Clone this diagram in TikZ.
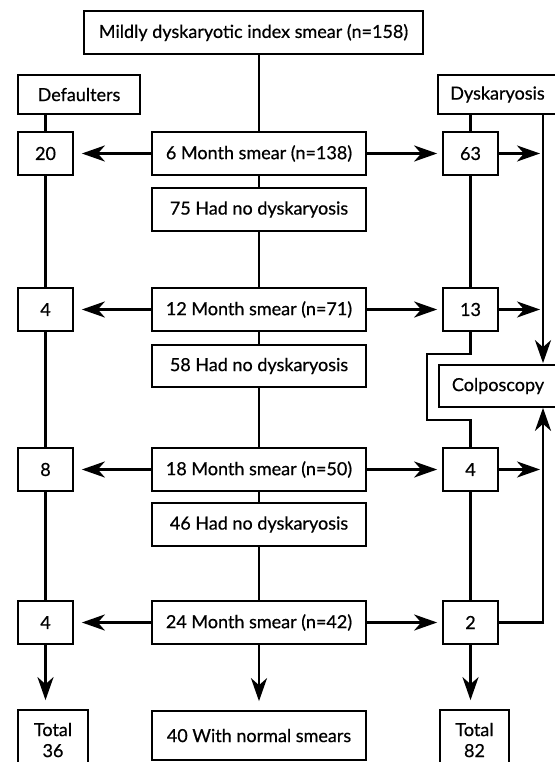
\documentclass[tikz,border=0pt]{standalone}
\usepackage{fontspec}
\setmainfont{Lato}[FakeBold=0.6]
\usetikzlibrary{arrows.meta}
\begin{document}
\begin{tikzpicture}[x=1pt,y=-1pt,
  box/.style={draw, line width=1.7pt, inner sep=0pt, align=center, font=\fontsize{18}{21}\selectfont},
  conn/.style={line width=2.7pt},
  arr/.style={conn, -{Stealth[length=23pt,width=16pt,inset=7pt]}}]
\useasboundingbox (0,0) rectangle (554,762);
% helper: box by corners
\newcommand{\bx}[6]{\node[box, minimum width={#4-#2}, minimum height={#5-#3}] (#1) at ({(#2+#4)/2},{(#3+#5)/2}) {#6};}
\bx{top}{84}{11}{423}{54}{Mildly dyskaryotic index smear (n=158)}
\bx{def}{18}{75}{140}{114}{Defaulters}
\bx{dys}{438}{75}{557}{114}{Dyskaryosis}
\bx{n20}{18}{132}{73}{175}{20}
\bx{m6}{152}{132}{366}{175}{6 Month smear (n=138)}
\bx{n63}{443}{132}{498}{175}{63}
\bx{h75}{152}{188}{366}{231}{75 Had no dyskaryosis}
\bx{n4a}{18}{288}{73}{331}{4}
\bx{m12}{152}{288}{366}{331}{12 Month smear (n=71)}
\bx{n13}{443}{288}{498}{331}{13}
\bx{h58}{152}{345}{366}{387}{58 Had no dyskaryosis}
\bx{colp}{439}{365}{557}{407}{Colposcopy}
\bx{n8}{18}{448}{73}{491}{8}
\bx{m18}{152}{448}{366}{491}{18 Month smear (n=50)}
\bx{n4b}{443}{448}{498}{491}{4}
\bx{h46}{152}{503}{366}{546}{46 Had no dyskaryosis}
\bx{n4c}{18}{601}{73}{644}{4}
\bx{m24}{152}{601}{366}{644}{24 Month smear (n=42)}
\bx{n2}{443}{601}{498}{644}{2}
\bx{t36}{18}{710}{88}{770}{Total\\36}
\bx{n40}{152}{711}{366}{760}{40 With normal smears}
\bx{t82}{440}{710}{509}{770}{Total\\82}
\coordinate (rl) at (543,0);
\coordinate (k1) at (427,354);
\coordinate (k2) at (427,420);
% centre column
\draw[conn] (top.south -| m6.north) -- (m6.north);
\draw[conn] (m6.south) -- (h75.north);
\draw[conn] (h75.south) -- (m12.north);
\draw[conn] (m12.south) -- (h58.north);
\draw[conn] (h58.south) -- (m18.north);
\draw[conn] (m18.south) -- (h46.north);
\draw[conn] (h46.south) -- (m24.north);
\draw[arr, shorten >=9pt] (m24.south) -- (n40.north);
% left column
\draw[conn] (def.south -| n20.north) -- (n20.north);
\draw[conn] (n20.south) -- (n4a.north);
\draw[conn] (n4a.south) -- (n8.north);
\draw[conn] (n8.south) -- (n4c.north);
\draw[arr, shorten >=9pt] (n4c.south) -- (t36.north -| n4c.south);
% right column
\draw[conn] (dys.south -| n63.north) -- (n63.north);
\draw[conn] (n63.south) -- (n13.north);
\draw[conn] (n13.south) -- (n13.south |- k1) -- (k1) -- (k2) -- (k2 -| n4b.north) -- (n4b.north);
\draw[conn] (n4b.south) -- (n2.north);
\draw[arr, shorten >=9pt] (n2.south) -- (t82.north -| n2.south);
% horizontal arrows
\foreach \m/\l/\r in {m6/n20/n63, m12/n4a/n13, m18/n8/n4b, m24/n4c/n2}{
  \draw[arr, shorten >=8pt] (\m.west) -- (\l.east);
  \draw[arr, shorten >=5pt] (\m.east) -- (\r.west);
}
\foreach \r in {n63, n13, n4b}{
  \draw[arr, shorten >=3pt] (\r.east) -- (\r.east -| rl);
}
% colposcopy
\draw[arr, shorten >=1pt] (dys.south -| rl) -- (colp.north -| rl);
\draw[arr] (n2.east) -- (n2.east -| rl) -- (colp.south -| rl);
\end{tikzpicture}
\end{document}
